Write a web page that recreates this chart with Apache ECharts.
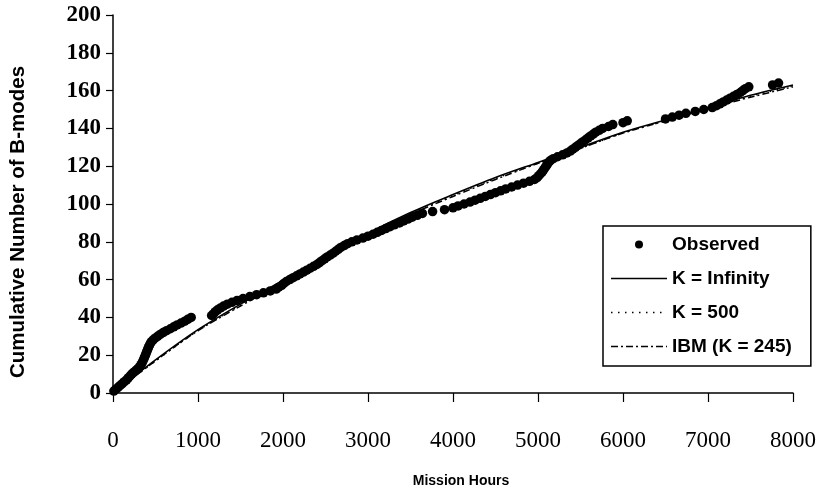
<!DOCTYPE html>
<html>
<head>
<meta charset="utf-8">
<title>Cumulative B-modes vs Mission Hours</title>
<script src="https://cdn.jsdelivr.net/npm/echarts@6/dist/echarts.min.js"></script>
<style>
  html, body { margin: 0; padding: 0; background: #fff; }
  #chart { width: 827px; height: 504px; }
</style>
</head>
<body>
<div id="chart"></div>
<script>
// Mission hours at which each new B-mode was observed (in order of occurrence)
const observedHours = [
  10, 35, 60, 85, 110, 135, 160, 180, 200, 220,
  245, 270, 295, 315, 330, 342, 353, 363, 372, 381,
  390, 398, 407, 416, 426, 437, 450, 470, 495, 525,
  555, 590, 630, 675, 715, 755, 800, 845, 880, 920,
  1160, 1185, 1205, 1230, 1265, 1300, 1345, 1400, 1460, 1530,
  1610, 1690, 1770, 1850, 1920, 1950, 1985, 2010, 2040, 2080,
  2120, 2160, 2200, 2240, 2280, 2320, 2360, 2400, 2430, 2460,
  2490, 2520, 2555, 2590, 2620, 2650, 2680, 2720, 2760, 2810,
  2870, 2940, 3000, 3060, 3110, 3160, 3210, 3260, 3310, 3370,
  3420, 3470, 3520, 3580, 3640, 3760, 3900, 4000, 4060, 4130,
  4200, 4260, 4320, 4380, 4440, 4500, 4560, 4620, 4690, 4760,
  4830, 4900, 4960, 4990, 5010, 5030, 5050, 5065, 5080, 5095,
  5110, 5125, 5145, 5180, 5230, 5290, 5340, 5380, 5410, 5440,
  5470, 5500, 5530, 5560, 5590, 5620, 5650, 5680, 5720, 5760,
  5830, 5880, 6000, 6050, 6500, 6580, 6660, 6740, 6850, 6950,
  7050, 7100, 7140, 7180, 7220, 7260, 7300, 7340, 7380, 7410,
  7440, 7480, 7760, 7830
];

// Model curves: hours and expected cumulative number of B-modes
const curveHours = [0, 500, 1000, 1500, 2000, 2500, 3000, 3500, 4000, 4500, 5000, 5500, 6000, 6500, 7000, 7500, 8000];
const kInfinity  = [0, 17.5, 33.5, 47, 59.5, 72, 84.5, 95.5, 105, 114, 122, 130, 138, 144.5, 151, 157.5, 163];
const k500       = [0, 17, 33, 46.5, 59, 71.5, 84, 95, 104.5, 113.5, 121.5, 129.5, 137.5, 144, 150.5, 157, 162.5];
const ibmK245    = [0, 17, 33, 46, 58.5, 71, 83.5, 94.5, 104, 113, 121.5, 129.5, 137.5, 144, 150.5, 156.5, 162];

const xTicks = { min: 0, max: 8000, step: 1000 };
const yTicks = { min: 0, max: 200, step: 20 };

const seriesNames = ['Observed', 'K = Infinity', 'K = 500', 'IBM (K = 245)'];

// Dash patterns (px) shared by the plotted curves and their legend swatches
const DOTTED = [1.5, 5.5];
const DASH_DOT = [7, 3, 2, 3];

const pair = (xs, ys) => xs.map((x, i) => [x, ys[i]]);
const observed = observedHours.map((h, i) => [h, i + 1]);

// Legend swatch: a horizontal stroke drawn as filled segments following a dash pattern
function strokeIcon(len, thick, pattern) {
  let d = '';
  let x = 0, k = 0;
  while (x < len) {
    const seg = pattern ? pattern[k % pattern.length] : len;
    if (k % 2 === 0) {
      const w = Math.min(seg, len - x);
      d += 'M' + x + ',0H' + (x + w) + 'V' + thick + 'H' + x + 'Z';
    }
    x += seg;
    k++;
  }
  // keep the swatch box exactly len wide
  d += 'M' + (len - 0.01) + ',0H' + len + 'V' + thick + 'H' + (len - 0.01) + 'Z';
  return 'path://' + d;
}

const chart = echarts.init(document.getElementById('chart'), null, { renderer: 'canvas' });

const serif = 'Liberation Serif, Times New Roman, serif';
const sans = 'Liberation Sans, Arial, sans-serif';

chart.setOption({
  animation: false,
  backgroundColor: '#ffffff',
  grid: { left: 112, right: 34, top: 15, bottom: 111, containLabel: false },
  xAxis: {
    type: 'value',
    min: xTicks.min, max: xTicks.max, interval: xTicks.step,
    name: 'Mission Hours',
    nameLocation: 'middle',
    nameGap: 81,
    nameTextStyle: { fontFamily: sans, fontWeight: 'bold', fontSize: 14, color: '#000', padding: [0, 0, 0, 16] },
    axisLine: { show: true, onZero: false, lineStyle: { color: '#000', width: 1.5 } },
    axisTick: { show: true, inside: false, length: 9, lineStyle: { color: '#000', width: 1.2 } },
    axisLabel: { margin: 36, fontFamily: serif, fontSize: 23, color: '#000', formatter: v => String(v) },
    splitLine: { show: false }
  },
  yAxis: {
    type: 'value',
    min: yTicks.min, max: yTicks.max, interval: yTicks.step,
    name: 'Cumulative Number of B-modes',
    nameLocation: 'middle',
    nameGap: 84,
    nameTextStyle: { fontFamily: sans, fontWeight: 'bold', fontSize: 20.5, color: '#000', padding: [0, 36, 0, 0] },
    axisLine: { show: true, lineStyle: { color: '#000', width: 1.5 } },
    axisTick: { show: true, inside: false, length: 7, lineStyle: { color: '#000', width: 1.2 } },
    axisLabel: { margin: 12, fontFamily: serif, fontWeight: 'bold', fontSize: 23, color: '#000', formatter: v => String(v) },
    splitLine: { show: false }
  },
  legend: {
    orient: 'vertical',
    left: 603,
    top: 226,
    padding: [9, 19, 10, 8],
    itemWidth: 56,
    itemHeight: 8,
    itemGap: 15,
    backgroundColor: '#fff',
    borderColor: '#000',
    borderWidth: 1.5,
    borderRadius: 0,
    textStyle: { fontFamily: sans, fontWeight: 'bold', fontSize: 19, color: '#000' },
    data: [
      { name: seriesNames[0], icon: 'circle' },
      { name: seriesNames[1], icon: strokeIcon(56, 1.6, null) },
      { name: seriesNames[2], icon: strokeIcon(56, 1.5, DOTTED) },
      { name: seriesNames[3], icon: strokeIcon(56, 1.5, DASH_DOT) }
    ]
  },
  series: [
    {
      name: seriesNames[0],
      type: 'scatter',
      data: observed,
      symbol: 'circle',
      symbolSize: 9.5,
      itemStyle: { color: '#000', opacity: 1 },
      z: 2
    },
    {
      name: seriesNames[1],
      type: 'line',
      data: pair(curveHours, kInfinity),
      smooth: 0.3,
      symbol: 'none',
      showSymbol: false,
      lineStyle: { color: '#000', width: 1.6, type: 'solid' },
      itemStyle: { color: '#000' },
      z: 3
    },
    {
      name: seriesNames[2],
      type: 'line',
      data: pair(curveHours, k500),
      smooth: 0.3,
      symbol: 'none',
      showSymbol: false,
      lineStyle: { color: '#000', width: 1.5, type: DOTTED },
      itemStyle: { color: '#000' },
      z: 3
    },
    {
      name: seriesNames[3],
      type: 'line',
      data: pair(curveHours, ibmK245),
      smooth: 0.3,
      symbol: 'none',
      showSymbol: false,
      lineStyle: { color: '#000', width: 1.5, type: DASH_DOT },
      itemStyle: { color: '#000' },
      z: 3
    }
  ]
});
</script>
</body>
</html>
